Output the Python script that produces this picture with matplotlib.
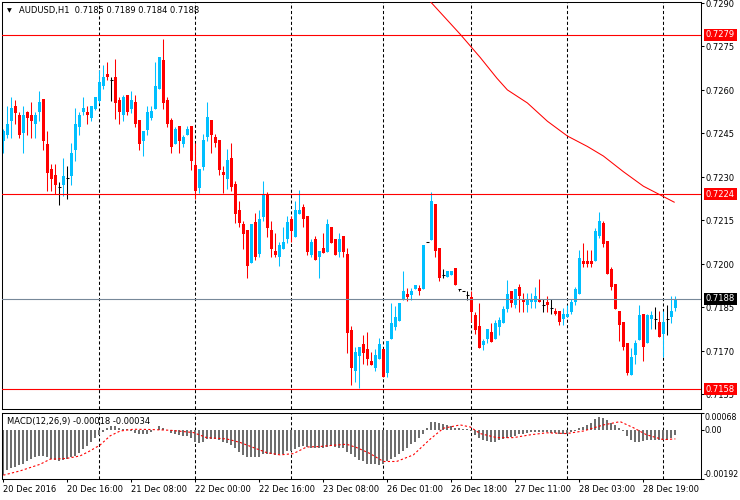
import matplotlib
matplotlib.use("Agg")
import matplotlib.pyplot as plt
import matplotlib.transforms as mtransforms
import numpy as np

# AUDUSD H1 candles, 20 Dec 2016 00:00 -> 29 Dec 2016 03:00
opens = [0.72423, 0.72444, 0.72492, 0.72545, 0.72515, 0.72453, 0.72524, 0.72515, 0.72483, 0.72524,
         0.72568, 0.72414, 0.72327, 0.72306, 0.72265, 0.72272, 0.72295, 0.72304, 0.72393, 0.72472,
         0.72524, 0.72524, 0.72504, 0.72534, 0.72563, 0.72614, 0.72656, 0.72635, 0.72646, 0.72566,
         0.72513, 0.72584, 0.72534, 0.72557, 0.72495, 0.72423, 0.72462, 0.72504, 0.72534, 0.72603,
         0.72704, 0.72566, 0.72495, 0.72414, 0.72476, 0.72414, 0.72446, 0.72476, 0.72340, 0.72262,
         0.72335, 0.72437, 0.72496, 0.72437, 0.72427, 0.72317, 0.72294, 0.72365, 0.72276, 0.72186,
         0.72138, 0.72117, 0.72004, 0.72145, 0.72034, 0.72161, 0.72237, 0.72117, 0.72043, 0.72025,
         0.72053, 0.72085, 0.72156, 0.72094, 0.72172, 0.72197, 0.72165, 0.72030, 0.72085, 0.72025,
         0.72055, 0.72041, 0.72129, 0.72085, 0.72041, 0.72096, 0.72034, 0.71774, 0.71632, 0.71683,
         0.71724, 0.71706, 0.71666, 0.71643, 0.71673, 0.71706, 0.71623, 0.71742, 0.71784, 0.71804,
         0.71876, 0.71896, 0.71894, 0.71915, 0.71917, 0.71915, 0.72076, 0.72083, 0.72207, 0.72055,
         0.71963, 0.71954, 0.71963, 0.71986, 0.71915, 0.71908, 0.71894, 0.71885, 0.71825, 0.71786,
         0.71722, 0.71742, 0.71765, 0.71742, 0.71784, 0.71795, 0.71846, 0.71906, 0.71859, 0.71921,
         0.71880, 0.71857, 0.71869, 0.71869, 0.71880, 0.71857, 0.71869, 0.71848, 0.71839, 0.71839,
         0.71809, 0.71818, 0.71836, 0.71869, 0.71898, 0.72011, 0.72011, 0.72011, 0.72009, 0.72098,
         0.72142, 0.72080, 0.71981, 0.71931, 0.71839, 0.71800, 0.71728, 0.71616, 0.71687, 0.71737,
         0.71827, 0.71726, 0.71809, 0.71811, 0.71800, 0.71758, 0.71811, 0.71818, 0.71848]
highs = [0.72465, 0.72545, 0.72575, 0.72566, 0.72524, 0.72545, 0.72527, 0.72557, 0.72524, 0.72596,
         0.72568, 0.72458, 0.72345, 0.72345, 0.72283, 0.72364, 0.72336, 0.72416, 0.72536, 0.72524,
         0.72575, 0.72545, 0.72545, 0.72575, 0.72667, 0.72685, 0.72695, 0.72646, 0.72706, 0.72575,
         0.72584, 0.72584, 0.72596, 0.72584, 0.72495, 0.72458, 0.72545, 0.72545, 0.72695, 0.72715,
         0.72777, 0.72575, 0.72504, 0.72473, 0.72476, 0.72446, 0.72476, 0.72476, 0.72416, 0.72329,
         0.72448, 0.72558, 0.72496, 0.72448, 0.72427, 0.72338, 0.72395, 0.72416, 0.72285, 0.72218,
         0.72147, 0.72117, 0.72138, 0.72177, 0.72186, 0.72287, 0.72248, 0.72147, 0.72106, 0.72076,
         0.72126, 0.72165, 0.72165, 0.72216, 0.72255, 0.72207, 0.72165, 0.72085, 0.72096, 0.72043,
         0.72106, 0.72154, 0.72129, 0.72085, 0.72106, 0.72096, 0.72055, 0.71786, 0.71715, 0.71715,
         0.71756, 0.71765, 0.71696, 0.71706, 0.71745, 0.71706, 0.71735, 0.71864, 0.71855, 0.71864,
         0.71974, 0.71917, 0.71917, 0.71926, 0.71926, 0.72066, 0.72076, 0.72248, 0.72207, 0.72055,
         0.71984, 0.71974, 0.71974, 0.71986, 0.71915, 0.71908, 0.71906, 0.71906, 0.71834, 0.71864,
         0.71742, 0.71777, 0.71795, 0.71807, 0.71816, 0.71855, 0.71945, 0.71906, 0.71912, 0.71931,
         0.71901, 0.71901, 0.71901, 0.71921, 0.71949, 0.71880, 0.71889, 0.71880, 0.71848, 0.71839,
         0.71848, 0.71859, 0.71880, 0.71921, 0.72048, 0.72071, 0.72048, 0.72048, 0.72124, 0.72179,
         0.72149, 0.72080, 0.71990, 0.71931, 0.71839, 0.71800, 0.71728, 0.71712, 0.71737, 0.71859,
         0.71827, 0.71827, 0.71839, 0.71850, 0.71839, 0.71839, 0.71859, 0.71889, 0.71889]
lows = [0.72382, 0.72435, 0.72435, 0.72483, 0.72435, 0.72382, 0.72444, 0.72435, 0.72435, 0.72492,
        0.72393, 0.72251, 0.72251, 0.72242, 0.72203, 0.72235, 0.72223, 0.72272, 0.72354, 0.72444,
        0.72513, 0.72483, 0.72492, 0.72531, 0.72554, 0.72603, 0.72635, 0.72563, 0.72501, 0.72481,
        0.72492, 0.72513, 0.72522, 0.72472, 0.72393, 0.72373, 0.72444, 0.72495, 0.72534, 0.72603,
        0.72534, 0.72472, 0.72382, 0.72414, 0.72384, 0.72404, 0.72446, 0.72324, 0.72225, 0.72246,
        0.72324, 0.72425, 0.72384, 0.72404, 0.72306, 0.72246, 0.72260, 0.72253, 0.72140, 0.72126,
        0.72053, 0.71951, 0.72004, 0.72014, 0.72025, 0.72149, 0.72094, 0.72025, 0.72025, 0.71993,
        0.72053, 0.72073, 0.72076, 0.72094, 0.72172, 0.72126, 0.72032, 0.72025, 0.72014, 0.71951,
        0.72037, 0.72041, 0.72073, 0.72032, 0.72025, 0.72025, 0.71694, 0.71584, 0.71593, 0.71574,
        0.71655, 0.71653, 0.71653, 0.71632, 0.71673, 0.71611, 0.71611, 0.71742, 0.71774, 0.71804,
        0.71876, 0.71873, 0.71876, 0.71915, 0.71894, 0.71915, 0.72076, 0.72083, 0.72023, 0.71940,
        0.71951, 0.71954, 0.71963, 0.71926, 0.71906, 0.71908, 0.71876, 0.71800, 0.71760, 0.71712,
        0.71703, 0.71726, 0.71731, 0.71742, 0.71754, 0.71795, 0.71834, 0.71853, 0.71848, 0.71836,
        0.71836, 0.71836, 0.71848, 0.71848, 0.71869, 0.71836, 0.71836, 0.71827, 0.71825, 0.71788,
        0.71788, 0.71816, 0.71827, 0.71857, 0.71898, 0.71988, 0.71988, 0.71988, 0.72009, 0.72091,
        0.72059, 0.71967, 0.71910, 0.71846, 0.71735, 0.71705, 0.71616, 0.71616, 0.71655, 0.71737,
        0.71666, 0.71726, 0.71777, 0.71777, 0.71749, 0.71678, 0.71756, 0.71797, 0.71839]
closes = [0.72460, 0.72483, 0.72536, 0.72522, 0.72444, 0.72515, 0.72504, 0.72492, 0.72515, 0.72557,
          0.72423, 0.72313, 0.72292, 0.72272, 0.72265, 0.72304, 0.72295, 0.72384, 0.72483, 0.72515,
          0.72536, 0.72513, 0.72545, 0.72575, 0.72626, 0.72646, 0.72644, 0.72635, 0.72554, 0.72524,
          0.72575, 0.72524, 0.72566, 0.72483, 0.72414, 0.72458, 0.72524, 0.72527, 0.72614, 0.72715,
          0.72554, 0.72483, 0.72403, 0.72466, 0.72425, 0.72437, 0.72466, 0.72356, 0.72253, 0.72329,
          0.72427, 0.72508, 0.72446, 0.72416, 0.72324, 0.72306, 0.72358, 0.72264, 0.72172, 0.72140,
          0.72103, 0.71993, 0.72138, 0.72025, 0.72156, 0.72237, 0.72124, 0.72053, 0.72032, 0.72064,
          0.72076, 0.72145, 0.72115, 0.72186, 0.72186, 0.72154, 0.72041, 0.72076, 0.72014, 0.72043,
          0.72037, 0.72138, 0.72073, 0.72032, 0.72085, 0.72041, 0.71763, 0.71641, 0.71696, 0.71715,
          0.71694, 0.71673, 0.71653, 0.71685, 0.71724, 0.71611, 0.71735, 0.71795, 0.71816, 0.71864,
          0.71906, 0.71885, 0.71906, 0.71926, 0.71906, 0.72066, 0.72076, 0.72216, 0.72043, 0.71951,
          0.71963, 0.71974, 0.71974, 0.71926, 0.71915, 0.71908, 0.71894, 0.71834, 0.71774, 0.71712,
          0.71735, 0.71777, 0.71731, 0.71795, 0.71807, 0.71846, 0.71896, 0.71864, 0.71912, 0.71891,
          0.71869, 0.71880, 0.71880, 0.71889, 0.71869, 0.71857, 0.71857, 0.71848, 0.71827, 0.71800,
          0.71827, 0.71827, 0.71869, 0.71912, 0.72020, 0.72000, 0.72000, 0.72000, 0.72112, 0.72149,
          0.72069, 0.71967, 0.71919, 0.71846, 0.71788, 0.71714, 0.71625, 0.71680, 0.71728, 0.71823,
          0.71714, 0.71823, 0.71823, 0.71811, 0.71749, 0.71800, 0.71811, 0.71839, 0.71880]

# moving average (red line), read at a few bar positions
ma_idx = [106.9, 114.2, 119.2, 123.4, 126, 131, 136, 141, 146, 150, 155, 160, 164.2, 167.7]
ma_val = [0.72902, 0.72792, 0.72712, 0.72640, 0.72600, 0.72555, 0.72492, 0.72441, 0.72405,
          0.72372, 0.72318, 0.72268, 0.72238, 0.72213]

# MACD(12,26,9) histogram per bar
macd = [-0.00176, -0.00157, -0.00147, -0.00144, -0.00136, -0.00131, -0.00123, -0.00114, -0.00107, -0.00101,
        -0.00101, -0.00107, -0.00114, -0.00118, -0.00121, -0.00118, -0.00114, -0.00107, -0.00101, -0.00088,
        -0.00075, -0.00062, -0.00045, -0.00029, -0.00018, -0.00005, 0.00010, 0.00016, 0.00016, 0.00010,
        0.00004, 0.00003, -0.00003, -0.00009, -0.00016, -0.00016, -0.00013, -0.00008, 0.00000, 0.00016,
        0.00010, 0.00000, -0.00009, -0.00013, -0.00018, -0.00022, -0.00022, -0.00029, -0.00045, -0.00052,
        -0.00045, -0.00034, -0.00034, -0.00034, -0.00039, -0.00045, -0.00052, -0.00058, -0.00068, -0.00084,
        -0.00097, -0.00105, -0.00107, -0.00107, -0.00105, -0.00092, -0.00092, -0.00094, -0.00097, -0.00094,
        -0.00092, -0.00081, -0.00081, -0.00075, -0.00066, -0.00062, -0.00066, -0.00068, -0.00068, -0.00071,
        -0.00068, -0.00066, -0.00062, -0.00066, -0.00068, -0.00071, -0.00084, -0.00094, -0.00107, -0.00118,
        -0.00123, -0.00131, -0.00134, -0.00134, -0.00136, -0.00134, -0.00123, -0.00114, -0.00105, -0.00094,
        -0.00081, -0.00068, -0.00055, -0.00045, -0.00031, -0.00013, 0.00008, 0.00034, 0.00034, 0.00029,
        0.00024, 0.00021, 0.00016, 0.00010, 0.00008, 0.00005, 0.00003, -0.00003, -0.00018, -0.00031,
        -0.00039, -0.00042, -0.00048, -0.00045, -0.00039, -0.00034, -0.00029, -0.00026, -0.00021, -0.00016,
        -0.00013, -0.00010, -0.00008, -0.00008, -0.00008, -0.00008, -0.00008, -0.00010, -0.00010, -0.00013,
        -0.00013, -0.00013, -0.00008, -0.00003, 0.00008, 0.00013, 0.00021, 0.00030, 0.00043, 0.00052,
        0.00050, 0.00042, 0.00030, 0.00021, 0.00008, -0.00003, -0.00022, -0.00039, -0.00048, -0.00045,
        -0.00042, -0.00039, -0.00039, -0.00037, -0.00039, -0.00039, -0.00037, -0.00029, -0.00018]

# signal line, read at a few bar positions
sig_idx = [0, 4.2, 9.2, 11.7, 15.8, 19.2, 21.7, 24.2, 26.7, 29.2, 32.5, 36.7, 41.7, 47.5, 50.8,
           55.8, 59.2, 62.5, 65.8, 69.2, 72.5, 75.8, 79.2, 82.5, 85.8, 88.3, 91.7, 95, 98.3, 102.5,
           106.7, 110, 114.2, 116.7, 119.2, 123.3, 127.5, 131.7, 135.8, 140.8, 145, 150, 154.2,
           157.5, 160.8, 165, 168]
sig_val = [-0.00177, -0.00160, -0.00134, -0.00114, -0.00111, -0.00101, -0.00081, -0.00058, -0.00022,
           -0.00003, 0.00004, 0.00003, 0.00000, -0.00009, -0.00029, -0.00034, -0.00048, -0.00068,
           -0.00088, -0.00097, -0.00092, -0.00066, -0.00064, -0.00059, -0.00055, -0.00068, -0.00092,
           -0.00123, -0.00123, -0.00097, -0.00035, 0.00008, 0.00021, 0.00013, -0.00013, -0.00029,
           -0.00029, -0.00018, -0.00010, -0.00013, -0.00003, 0.00021, 0.00034, 0.00010, -0.00018,
           -0.00037, -0.00034]

# horizontal levels drawn on the chart
levels = [0.7279, 0.7224, 0.71568]
level_text = ["0.7279", "0.7224", "0.7158"]
bid = 0.7188

price_ticks = [0.7290, 0.7275, 0.7260, 0.7245, 0.7230, 0.7215, 0.7200, 0.7185, 0.7170, 0.7155]
macd_ticks = [0.00068, 0.0, -0.00192]
macd_tick_text = ["0.00068", "0.00", "-0.00192"]
day_lines = [24, 48, 72, 95, 117, 141, 165]
date_pos = [0, 16, 32, 48, 64, 80, 96, 112, 128, 144, 160]
date_text = ["20 Dec 2016", "20 Dec 16:00", "21 Dec 08:00", "22 Dec 00:00", "22 Dec 16:00",
             "23 Dec 08:00", "26 Dec 01:00", "26 Dec 18:00", "27 Dec 11:00", "28 Dec 03:00",
             "28 Dec 19:00"]

BLUE = "#00BFFF"
RED = "#FF0000"


def main():
    plt.rcParams["font.family"] = ["DejaVu Sans"]
    plt.rcParams["font.size"] = 6

    W, H = 740, 500
    fig = plt.figure(figsize=(7.4, 5.0), dpi=100)

    def rect(l, t, r, b):
        return [l / W, 1 - b / H, (r - l) / W, (b - t) / H]

    ax = fig.add_axes(rect(2, 2, 701, 409))
    ax2 = fig.add_axes(rect(2, 413, 701, 479), sharex=ax)

    o, h, l, c = (np.array(a) for a in (opens, highs, lows, closes))
    idx = np.arange(len(o))
    up = c > o
    dn = c < o
    dj = c == o

    ax.vlines(idx[up], l[up], h[up], color=BLUE, lw=0.75, zorder=2)
    ax.vlines(idx[dn], l[dn], h[dn], color=RED, lw=0.75, zorder=2)
    ax.vlines(idx[dj], l[dj], h[dj], color="black", lw=0.75, zorder=2)
    ax.bar(idx[up], (c - o)[up], bottom=o[up], width=0.75, color=BLUE, lw=0, zorder=2)
    ax.bar(idx[dn], (c - o)[dn], bottom=o[dn], width=0.75, color=RED, lw=0, zorder=2)
    ax.hlines(o[dj], idx[dj] - 0.4, idx[dj] + 0.4, color="black", lw=0.75, zorder=2)

    ax.plot(ma_idx, ma_val, color=RED, lw=0.75, zorder=3)

    for v in levels:
        ax.axhline(v, color=RED, lw=0.8, zorder=3)
    ax.axhline(bid, color="#778899", lw=0.8, zorder=3)

    for d in day_lines:
        ax.axvline(d, color="black", lw=0.75, ls=(0, (3, 2.2)), zorder=1)
        ax2.axvline(d, color="black", lw=0.75, ls=(0, (3, 2.2)), zorder=1)

    ax.set_xlim(-0.33, 174.4)
    ax.set_ylim(0.715, 0.72903)

    # right price scale: tick marks from the axis, labels as texts
    ax.yaxis.tick_right()
    ax.set_yticks(price_ticks)
    ax.set_yticklabels([])
    ax.tick_params(axis="y", direction="out", length=2.5, width=0.75)
    ax.tick_params(axis="x", bottom=False, labelbottom=False)

    down = mtransforms.ScaledTranslation(0, -1.5 / 100, fig.dpi_scale_trans)
    tr = mtransforms.blended_transform_factory(ax.transAxes, ax.transData)
    xt = (706 - 2) / 699
    for t in price_ticks:
        ax.text(xt, t, "%.4f" % t, transform=tr + down, ha="left", va="center", fontsize=6,
                clip_on=False, zorder=4)

    # price boxes on the right scale
    for v, s in zip(levels, level_text):
        ax.text(xt, v, s, transform=tr, ha="left", va="center", fontsize=6, color="white",
                bbox=dict(boxstyle="square,pad=0.2", fc=RED, ec="none"), zorder=5)
    ax.text(xt, bid, "%.4f" % bid, transform=tr, ha="left", va="center", fontsize=6,
            color="white", bbox=dict(boxstyle="square,pad=0.2", fc="black", ec="none"), zorder=5)

    # MACD panel
    ax2.bar(idx, macd, width=0.5, color="#6e6e6e", lw=0, zorder=2)
    ax2.plot(sig_idx, sig_val, color=RED, lw=0.8, ls=(0, (2, 2)), zorder=3)
    ax2.set_ylim(-0.00192, 0.00068)
    ax2.yaxis.tick_right()
    ax2.set_yticks(macd_ticks)
    ax2.set_yticklabels([])
    ax2.tick_params(axis="y", direction="out", length=2.5, width=0.75)
    tr2 = mtransforms.blended_transform_factory(ax2.transAxes, ax2.transData)
    for t, s, va in zip(macd_ticks, macd_tick_text, ["top", "center", "bottom"]):
        ax2.text((704 - 2) / 699, t, s, transform=tr2, ha="left", va=va, fontsize=5.7,
                 clip_on=False)

    ax2.set_xticks(date_pos)
    ax2.set_xticklabels(date_text, ha="left")
    ax2.tick_params(axis="x", direction="out", length=2.5, width=0.75, pad=1.5, labelsize=6)

    for a in (ax, ax2):
        for sp in a.spines.values():
            sp.set_color("black")
            sp.set_linewidth(0.75)

    fig.text(9.5 / W, 1 - 10.5 / H, "\u25bc", fontsize=4.5, ha="center", va="center")
    fig.text(19 / W, 1 - 10.5 / H, "AUDUSD,H1  %.4f %.4f %.4f %.4f" % (o[-1], h[-1], l[-1], c[-1]),
             ha="left", va="center", fontsize=6)
    fig.text(7 / W, 1 - 421.5 / H, "MACD(12,26,9) %.5f %.5f" % (macd[-1], sig_val[-1]),
             ha="left", va="center", fontsize=6)

    fig.savefig("out.png", dpi=100)


main()
